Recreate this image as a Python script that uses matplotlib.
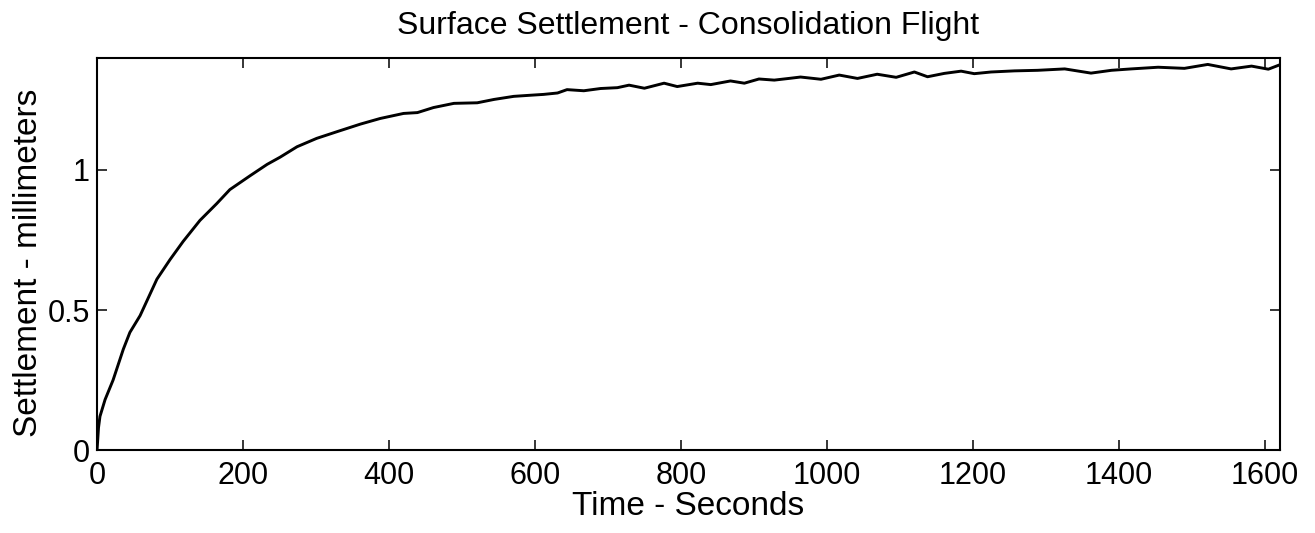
"""
Surface settlement vs time for the consolidation flight.
Values read off the scanned plot (mm vs seconds).
"""

import matplotlib
matplotlib.use('Agg')
import matplotlib.pyplot as plt

TIME_S = [0, 2, 4, 11, 22, 36, 45, 59, 82, 100, 118, 141, 164, 182, 210, 233,
          251, 274, 301, 329, 361, 388, 420, 439, 461, 489, 521, 544, 571, 594,
          612, 631, 644, 667, 690, 713, 729, 750, 777, 795, 823, 841, 868, 887,
          907, 928, 948, 964, 992, 1017, 1042, 1069, 1095, 1120, 1138, 1161,
          1184, 1202, 1225, 1257, 1289, 1326, 1362, 1390, 1417, 1454, 1490,
          1522, 1554, 1582, 1605, 1621]
SETTLE_MM = [0.0, 0.08, 0.12, 0.18, 0.25, 0.36, 0.42, 0.48, 0.61, 0.68, 0.745,
             0.82, 0.88, 0.93, 0.98, 1.02, 1.046, 1.083, 1.113, 1.137, 1.164,
             1.184, 1.202, 1.205, 1.223, 1.238, 1.240, 1.252, 1.263, 1.267,
             1.270, 1.275, 1.287, 1.283, 1.291, 1.294, 1.303, 1.292, 1.310,
             1.298, 1.310, 1.305, 1.318, 1.310, 1.325, 1.321, 1.327, 1.332,
             1.324, 1.339, 1.327, 1.342, 1.331, 1.350, 1.333, 1.345, 1.353,
             1.344, 1.350, 1.354, 1.356, 1.361, 1.346, 1.356, 1.361, 1.367,
             1.363, 1.377, 1.361, 1.371, 1.360, 1.376]

X_TICKS = [0, 200, 400, 600, 800, 1000, 1200, 1400, 1600]
Y_TICKS = [0, 0.5, 1]
Y_TICK_LABELS = ['0', '0.5', '1']

TITLE = 'Surface Settlement - Consolidation Flight'
XLABEL = 'Time - Seconds'
YLABEL = 'Settlement - millimeters'


def main():
    plt.rcParams['font.family'] = ['Liberation Sans', 'DejaVu Sans']
    fig = plt.figure(figsize=(13.15, 5.33), dpi=100, facecolor='white')
    ax = fig.add_axes([0.0738, 0.1557, 0.8996, 0.7355])

    ax.plot(TIME_S, SETTLE_MM, color='black', lw=2.1)

    ax.set_xlim(0, 1621)
    ax.set_ylim(0, 1.40)
    ax.set_xticks(X_TICKS)
    ax.set_yticks(Y_TICKS)
    ax.set_yticklabels(Y_TICK_LABELS)
    ax.tick_params(direction='in', top=True, right=True, length=7.5,
                   width=1.1, labelsize=22, color='black')
    ax.tick_params(axis='x', pad=8)
    ax.tick_params(axis='y', pad=5)
    for sp in ax.spines.values():
        sp.set_linewidth(1.5)

    ax.set_title(TITLE, fontsize=23, pad=17)
    ax.set_xlabel(XLABEL, fontsize=24, labelpad=0)
    ax.set_ylabel(YLABEL, fontsize=24, labelpad=3)
    ax.yaxis.label.set_y(0.478)   # scan has the label a touch below centre

    fig.savefig('out.png', dpi=100, facecolor='white')
    plt.close(fig)


if __name__ == '__main__':
    main()
